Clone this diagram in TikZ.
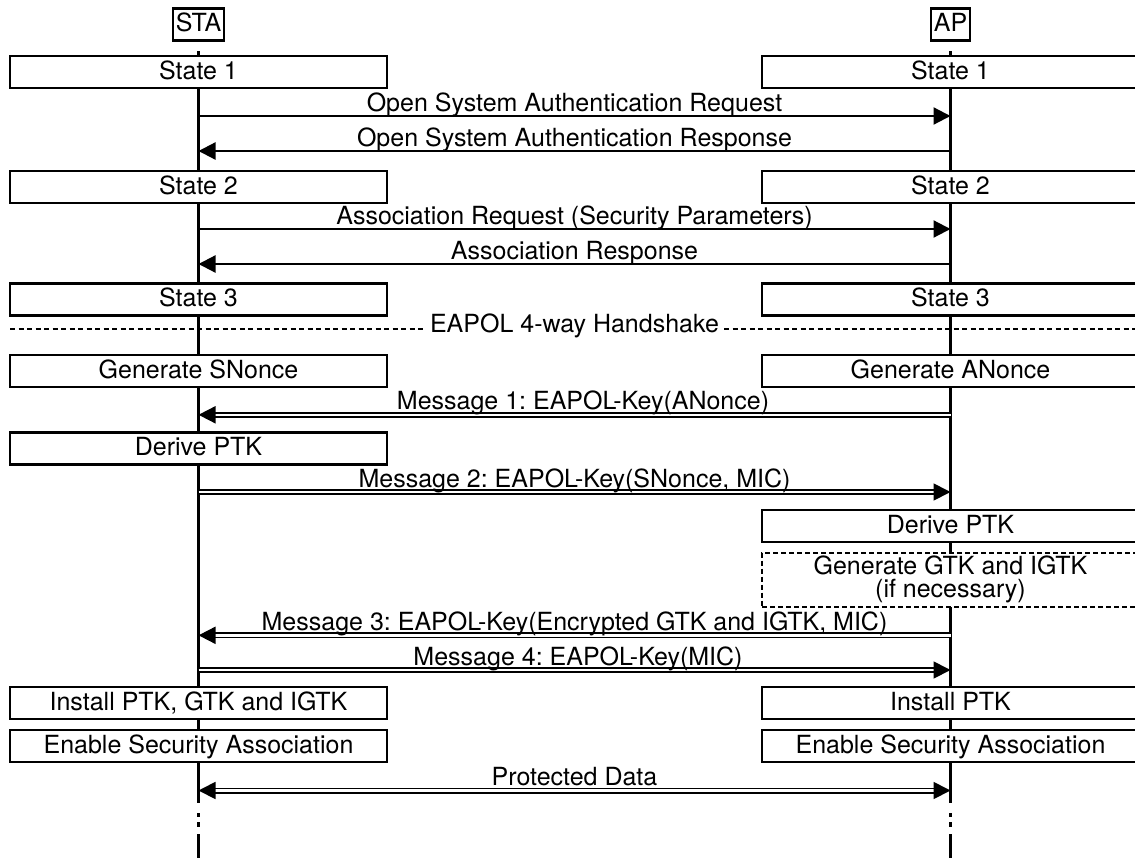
\documentclass[tikz,border=0pt]{standalone}
\usepackage{fontspec}
\setmainfont{TeX Gyre Heros}
\frenchspacing
\usetikzlibrary{arrows.meta}
\begin{document}
\begin{tikzpicture}[x=1pt,y=-1pt,
  every node/.style={font=\fontsize{25}{30}\selectfont},
  lifeline/.style={line width=2.2pt},
  lifetail/.style={line width=2.2pt, dash pattern=on 0pt off 10pt on 4pt off 5pt on 5pt off 7pt on 40pt},
  statebox/.style={draw, line width=2.2pt, fill=white, minimum width=377pt, minimum height=32pt,
    inner sep=0pt, text height=18pt, text depth=4pt},
  optbox/.style={statebox, minimum height=54pt, dash pattern=on 5pt off 3pt, align=center,
    text height=, text depth=, font=\fontsize{25}{23}\selectfont},
  headbox/.style={draw, line width=2.2pt, fill=white, minimum height=32pt, inner xsep=3pt,
    inner ysep=0pt, text height=18pt, text depth=4pt},
  msg/.style={line width=2.2pt, -{Triangle[length=17pt,width=17pt]}},
  secmsg/.style={line width=1.8pt, double, double distance=2.4pt, -{Triangle[length=17pt,width=17pt]}},
  msglabel/.style={anchor=base, inner sep=0pt},
  phase/.style={line width=2.2pt, dash pattern=on 5pt off 3.5pt},
]
\clip (0,0) rectangle (1135,857);
\fill[white] (0,0) rectangle (1135,857);

% lifelines
\coordinate (sta-top) at (198.5,51);
\coordinate (sta-bot) at (198.5,803);
\coordinate (sta-end) at (198.5,860);
\coordinate (ap-top) at (950.5,51);
\coordinate (ap-bot) at (950.5,803);
\coordinate (ap-end) at (950.5,860);
\draw[lifeline] (sta-top) -- (sta-bot);
\draw[lifeline] (ap-top) -- (ap-bot);
\draw[lifetail] (sta-bot) -- (sta-end);
\draw[lifetail] (ap-bot) -- (ap-end);

% participants
\node[headbox] (sta) at (198.5,24.5) {STA};
\node[headbox] (ap) at (950.5,24.5) {AP};

% states
\node[statebox] (sta-s1) at (198.5,72) {State 1};
\node[statebox] (ap-s1) at (950.5,72) {State 1};
\node[statebox] (sta-s2) at (198.5,187) {State 2};
\node[statebox] (ap-s2) at (950.5,187) {State 2};
\node[statebox] (sta-s3) at (198.5,299.5) {State 3};
\node[statebox] (ap-s3) at (950.5,299.5) {State 3};

% authentication and association
\coordinate (sta-a1) at (198.5,116);  \coordinate (ap-a1) at (950.5,116);
\coordinate (sta-a2) at (198.5,151);  \coordinate (ap-a2) at (950.5,151);
\coordinate (sta-a3) at (198.5,229);  \coordinate (ap-a3) at (950.5,229);
\coordinate (sta-a4) at (198.5,264);  \coordinate (ap-a4) at (950.5,264);
\draw[msg] (sta-a1) -- (ap-a1);
\draw[msg] (ap-a2) -- (sta-a2);
\draw[msg] (sta-a3) -- (ap-a3);
\draw[msg] (ap-a4) -- (sta-a4);
\node[msglabel] (l-a1) at (574.5,111.5) {Open System Authentication Request};
\node[msglabel] (l-a2) at (574.5,146.5) {Open System Authentication Response};
\node[msglabel] (l-a3) at (574.5,224.5) {Association Request (Security Parameters)};
\node[msglabel] (l-a4) at (574.5,259.5) {Association Response};

% handshake separator
\coordinate (hs-l) at (10,329.3);
\coordinate (hs-r) at (1140,329.3);
\draw[phase] (hs-l) -- (hs-r);
\node[anchor=base, fill=white, inner xsep=5pt, inner ysep=2pt] (hs) at (574.5,332) {EAPOL 4-way Handshake};

% 4-way handshake
\node[statebox] (sta-n) at (198.5,371) {Generate SNonce};
\node[statebox] (ap-n) at (950.5,371) {Generate ANonce};
\node[statebox] (sta-ptk) at (198.5,448.5) {Derive PTK};
\node[statebox] (ap-ptk) at (950.5,526) {Derive PTK};
\node[optbox] (ap-gtk) at (950.5,579.7) {Generate GTK and IGTK\\(if necessary)};
\node[statebox] (sta-inst) at (198.5,703) {Install PTK, GTK and IGTK};
\node[statebox] (ap-inst) at (950.5,703) {Install PTK};
\node[statebox] (sta-en) at (198.5,746) {Enable Security Association};
\node[statebox] (ap-en) at (950.5,746) {Enable Security Association};

\coordinate (sta-m1) at (198.5,414.8);  \coordinate (ap-m1) at (950.5,414.8);
\coordinate (sta-m2) at (198.5,492);    \coordinate (ap-m2) at (950.5,492);
\coordinate (sta-m3) at (198.5,635.3);  \coordinate (ap-m3) at (950.5,635.3);
\coordinate (sta-m4) at (198.5,670);    \coordinate (ap-m4) at (950.5,670);
\coordinate (sta-pd) at (198.5,790.5);  \coordinate (ap-pd) at (950.5,790.5);
\draw[secmsg] (ap-m1) -- (sta-m1);
\draw[secmsg] (sta-m2) -- (ap-m2);
\draw[secmsg] (ap-m3) -- (sta-m3);
\draw[secmsg] (sta-m4) -- (ap-m4);
\draw[secmsg, {Triangle[length=17pt,width=17pt]}-{Triangle[length=17pt,width=17pt]}] (sta-pd) -- (ap-pd);
\node[msglabel] (l-m1) at (583,409.5) {Message 1: EAPOL-Key(ANonce)};
\node[msglabel] (l-m2) at (574.5,487) {Message 2: EAPOL-Key(SNonce, MIC)};
\node[msglabel] (l-m3) at (574.5,630) {Message 3: EAPOL-Key(Encrypted GTK and IGTK, MIC)};
\node[msglabel] (l-m4) at (578,665) {Message 4: EAPOL-Key(MIC)};
\node[msglabel] (l-pd) at (574.5,785.5) {Protected Data};
\end{tikzpicture}
\end{document}
